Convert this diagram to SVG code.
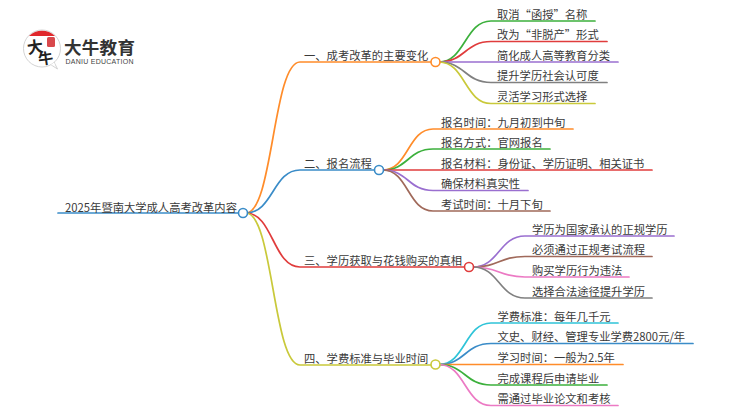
<svg xmlns="http://www.w3.org/2000/svg" width="750" height="410" viewBox="0 0 750 410">
<style>
text{font-family:"Noto Sans CJK SC","Noto Sans",sans-serif;font-size:11.3px;fill:#3a3a3a}
.c{fill:none;stroke-width:1.7;stroke-linecap:round}
.d{fill:#fff;stroke-width:1.6}
.org{stroke:#ff8c2a}.blu{stroke:#3a8cc8}.red{stroke:#e03c3c}.yel{stroke:#c9c93a}.grn{stroke:#3cb03c}.pur{stroke:#9a6fd0}.gry{stroke:#808080}.brn{stroke:#a0695a}.pnk{stroke:#ec7ac4}.tea{stroke:#2fc4d8}
</style>
<rect width="750" height="410" fill="#fff"/>
<g id="connectors">
<path class="c blu" d="M58,213H240"/>
<path class="c org" d="M246,213C273,213 273,62 300,62H431"/>
<path class="c blu" d="M246,213C273,213 273,170 300,170H375"/>
<path class="c red" d="M246,213C273,213 273,267 300,267H464"/>
<path class="c yel" d="M246,213C273,213 273,365 300,365H431"/>
<path class="c grn" d="M439,62C465,62 465,21 491,21H595"/>
<path class="c red" d="M439,62C465,62 465,41.500 491,41.500H607"/>
<path class="c pur" d="M439,62H618"/>
<path class="c gry" d="M439,62C465,62 465,82.500 491,82.500H607"/>
<path class="c yel" d="M439,62C465,62 465,103.500 491,103.500H595"/>
<path class="c org" d="M383,170C408,170 408,129 433,129H573"/>
<path class="c grn" d="M383,170C408,170 408,149 433,149H550"/>
<path class="c red" d="M383,170H652"/>
<path class="c pur" d="M383,170C408,170 408,190.500 433,190.500H528"/>
<path class="c brn" d="M383,170C408,170 408,211 433,211H550"/>
<path class="c pur" d="M473,267C499,267 499,236 525,236H674"/>
<path class="c brn" d="M473,267C499,267 499,256.500 525,256.500H652"/>
<path class="c pnk" d="M473,267C499,267 499,277 525,277H629"/>
<path class="c gry" d="M473,267C499,267 499,298 525,298H652"/>
<path class="c tea" d="M439,364.500C465,364.500 465,323 491,323H618"/>
<path class="c blu" d="M439,364.500C465,364.500 465,343.500 491,343.500H693"/>
<path class="c org" d="M439,364.500H623"/>
<path class="c grn" d="M439,364.500C465,364.500 465,385 491,385H607"/>
<path class="c pnk" d="M439,364.500C465,364.500 465,405.500 491,405.500H618"/>
</g>
<g id="logo">
<path d="M50.500,64.500L57.500,69L54,62Z" fill="#fff" stroke="#c8c8c8" stroke-width="0.8"/>
<circle cx="42" cy="48.500" r="18.500" fill="#fff" stroke="#c8c8c8" stroke-width="0.8"/>
<path d="M50.500,65.200L54,62.500L55,65Z" fill="#fff"/>
<path d="M29,36A18.500,18.500 0 0 1 55,36Z" fill="#e0282c"/>
<rect x="47" y="37" width="8" height="10" rx="1.500" fill="#d8484c"/>
<text x="27" y="53" style="font-size:16px;font-weight:700;fill:#222" transform="rotate(-8 35 47)">大</text>
<text x="38" y="64" style="font-size:15px;font-weight:700;fill:#222" transform="rotate(-8 45 58)">牛</text>
<text x="64" y="54" style="font-family:'Liberation Sans','Noto Sans CJK SC',sans-serif;font-size:17.500px;font-weight:700;letter-spacing:.3px;fill:#333">大牛教育</text>
<text x="65.500" y="64.300" style="font-size:7px;fill:#444;font-family:'Liberation Sans',sans-serif" textLength="68">DANIU EDUCATION</text>
</g>
<g id="root"><text x="65" y="211.500">2025年暨南大学成人高考改革内容</text><circle class="d blu" cx="243" cy="213" r="4.500"/></g>
<g id="n1"><text x="304" y="59.500">一、成考改革的主要变化</text><circle class="d org" cx="435.500" cy="62" r="4.500"/></g>
<g id="n2"><text x="304" y="167.500">二、报名流程</text><circle class="d blu" cx="379" cy="170" r="4.500"/></g>
<g id="n3"><text x="304" y="264.500">三、学历获取与花钱购买的真相</text><circle class="d red" cx="469" cy="267" r="4.500"/></g>
<g id="n4"><text x="304" y="362.500">四、学费标准与毕业时间</text><circle class="d yel" cx="435.500" cy="364.500" r="4.500"/></g>
<g id="n1-1"><text x="497" y="18.500">取消“函授”名称</text></g>
<g id="n1-2"><text x="497" y="39">改为“非脱产”形式</text></g>
<g id="n1-3"><text x="497" y="59.500">简化成人高等教育分类</text></g>
<g id="n1-4"><text x="497" y="80">提升学历社会认可度</text></g>
<g id="n1-5"><text x="497" y="101">灵活学习形式选择</text></g>
<g id="n2-1"><text x="441" y="126.500">报名时间：九月初到中旬</text></g>
<g id="n2-2"><text x="441" y="146.500">报名方式：官网报名</text></g>
<g id="n2-3"><text x="441" y="167.500">报名材料：身份证、学历证明、相关证书</text></g>
<g id="n2-4"><text x="441" y="188">确保材料真实性</text></g>
<g id="n2-5"><text x="441" y="208.500">考试时间：十月下旬</text></g>
<g id="n3-1"><text x="532" y="233.500">学历为国家承认的正规学历</text></g>
<g id="n3-2"><text x="532" y="254">必须通过正规考试流程</text></g>
<g id="n3-3"><text x="532" y="274.500">购买学历行为违法</text></g>
<g id="n3-4"><text x="532" y="295.500">选择合法途径提升学历</text></g>
<g id="n4-1"><text x="497.500" y="320.500">学费标准：每年几千元</text></g>
<g id="n4-2"><text x="497.500" y="341">文史、财经、管理专业学费2800元/年</text></g>
<g id="n4-3"><text x="497.500" y="361.500">学习时间：一般为2.5年</text></g>
<g id="n4-4"><text x="497.500" y="382.500">完成课程后申请毕业</text></g>
<g id="n4-5"><text x="497.500" y="403">需通过毕业论文和考核</text></g>
</svg>
